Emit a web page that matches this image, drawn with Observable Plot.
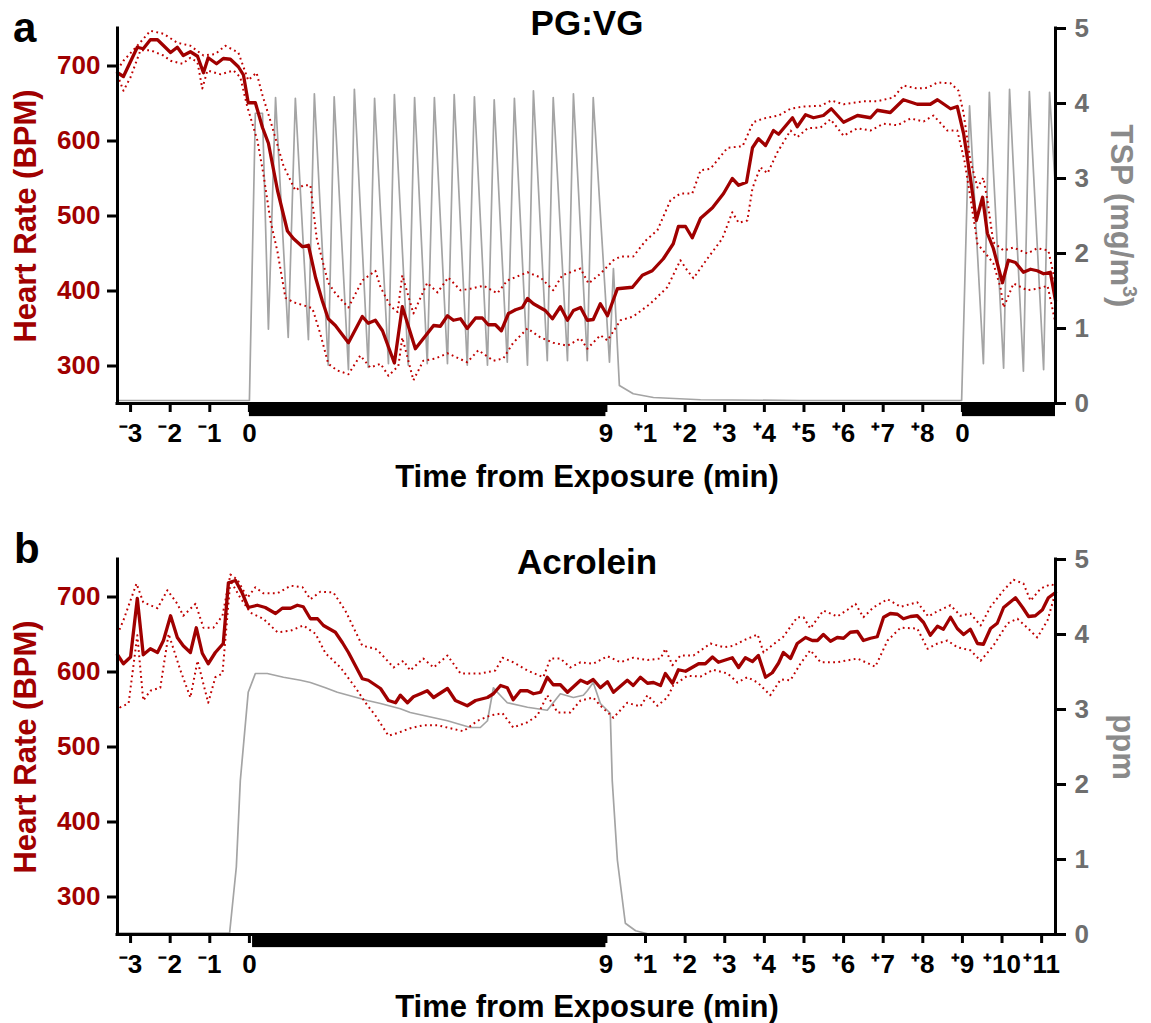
<!DOCTYPE html>
<html><head><meta charset="utf-8">
<script src="https://cdn.jsdelivr.net/npm/d3@7"></script>
<script src="https://cdn.jsdelivr.net/npm/@observablehq/plot@0.6"></script>
<style>
body{margin:0;background:#fff;}
#wrap{position:relative;width:1151px;height:1023px;background:#fff;}
#wrap svg{position:absolute;left:0;}
</style></head><body><div id="wrap"></div>
<script>
// ---------- DATA (time in minutes from exposure start, value) ----------
// Panel a: PG:VG
const hrMeanA = [[-3.33,691],[-3.18,686],[-2.83,725],[-2.68,723],[-2.50,735],[-2.32,735],[-1.99,718],[-1.82,725],[-1.67,714],[-1.49,719],[-1.31,713],[-1.16,691],[-1.04,711],[-0.83,703],[-0.66,710],[-0.48,709],[-0.28,699],[-0.15,688],[-0.03,651],[0.15,651],[0.33,618],[0.48,597],[0.71,534],[0.96,480],[1.11,470],[1.34,459],[1.49,461],[1.67,418],[1.84,387],[1.99,363],[2.17,354],[2.50,331],[2.85,366],[3.00,357],[3.18,361],[3.36,347],[3.66,304],[3.86,379],[4.19,323],[4.65,354],[4.82,353],[5.00,367],[5.15,361],[5.33,363],[5.50,350],[5.71,364],[5.88,364],[6.03,355],[6.21,355],[6.36,347],[6.54,370],[6.72,375],[6.89,378],[7.02,390],[7.17,383],[7.47,374],[7.65,363],[7.85,379],[8.03,361],[8.18,374],[8.36,378],[8.53,361],[8.68,362],[8.86,383],[9.04,367],[9.29,403],[9.67,405],[9.92,421],[10.17,427],[10.45,443],[10.70,463],[10.83,486],[11.01,486],[11.18,471],[11.39,497],[11.69,511],[11.97,530],[12.19,550],[12.35,541],[12.55,545],[12.70,591],[12.85,603],[13.03,594],[13.23,614],[13.36,609],[13.71,631],[13.83,619],[14.04,635],[14.24,631],[14.49,634],[14.69,643],[15.00,625],[15.35,634],[15.68,631],[15.85,641],[16.18,638],[16.51,655],[16.86,649],[17.19,649],[17.37,655],[17.70,643],[17.87,646],[18.03,610],[18.20,551],[18.35,494],[18.51,525],[18.63,477],[18.78,457],[19.01,411],[19.16,441],[19.34,438],[19.54,425],[19.72,429],[19.89,427],[20.05,423],[20.22,425],[20.35,387]];
const hrUpperA = [[-3.33,695],[-3.18,707],[-2.83,727],[-2.50,747],[-2.17,743],[-1.82,731],[-1.49,727],[-1.16,714],[-0.86,716],[-0.61,727],[-0.28,718],[-0.03,681],[0.18,691],[0.33,661],[0.53,627],[0.86,567],[1.16,534],[1.36,541],[1.54,541],[1.70,470],[1.99,411],[2.17,397],[2.50,378],[2.85,414],[3.18,427],[3.31,405],[3.56,380],[3.74,372],[3.86,421],[4.14,370],[4.49,411],[4.75,398],[5.02,418],[5.33,401],[5.58,403],[5.91,407],[6.26,397],[6.51,414],[7.02,425],[7.35,418],[7.67,401],[7.90,421],[8.36,430],[8.56,410],[8.86,423],[9.19,441],[9.37,446],[9.69,446],[10.00,467],[10.30,481],[10.63,521],[10.88,530],[11.18,530],[11.39,561],[11.64,563],[12.07,591],[12.45,593],[12.72,625],[12.98,630],[13.36,634],[13.66,643],[13.99,646],[14.42,647],[14.69,654],[15.00,649],[15.50,653],[15.85,653],[16.26,658],[16.51,674],[16.86,670],[17.12,671],[17.37,678],[17.70,677],[17.90,667],[18.03,637],[18.20,574],[18.38,538],[18.53,551],[18.63,521],[18.78,465],[19.04,454],[19.29,458],[19.64,450],[19.89,457],[20.17,454],[20.35,410]];
const hrLowerA = [[-3.33,688],[-3.18,667],[-3.00,685],[-2.75,721],[-2.50,721],[-2.17,714],[-1.99,707],[-1.69,703],[-1.49,711],[-1.31,705],[-1.19,670],[-1.06,694],[-0.73,689],[-0.40,694],[-0.23,685],[-0.05,645],[0.20,601],[0.35,557],[0.53,494],[0.71,452],[0.91,391],[1.11,385],[1.36,381],[1.59,377],[1.79,343],[1.99,303],[2.22,294],[2.50,289],[2.80,314],[3.05,298],[3.31,303],[3.51,287],[3.76,300],[3.86,338],[4.14,281],[4.39,307],[4.70,310],[5.00,317],[5.50,305],[5.78,321],[6.16,307],[6.41,310],[6.66,331],[7.02,350],[7.35,338],[7.67,331],[8.03,327],[8.36,337],[8.53,323],[8.86,341],[9.04,334],[9.37,361],[9.69,366],[10.12,383],[10.55,405],[10.88,441],[11.06,427],[11.21,417],[11.56,443],[11.94,470],[12.19,505],[12.35,491],[12.57,494],[12.70,537],[12.90,565],[13.08,557],[13.33,585],[13.66,614],[13.83,605],[14.09,617],[14.42,618],[14.67,629],[15.00,607],[15.35,617],[15.68,614],[16.01,623],[16.36,621],[16.69,630],[17.02,626],[17.27,634],[17.62,614],[17.87,614],[18.05,574],[18.20,525],[18.38,463],[18.63,447],[18.78,437],[18.96,405],[19.04,378],[19.29,410],[19.64,401],[19.89,403],[20.15,407],[20.35,357]];
// TSP (mg/m3)
const tspA = [[-3.33,0.04],[0.00,0.04],[0.15,3.87],[0.33,3.87],[0.48,0.99],[0.66,4.08],[0.98,0.88],[1.16,4.07],[1.49,0.85],[1.64,4.13],[1.99,0.51],[2.14,4.09],[2.50,0.45],[2.65,4.19],[3.00,0.48],[3.16,4.07],[3.51,0.53],[3.66,4.12],[4.01,0.51],[4.17,4.08],[4.49,0.53],[4.67,4.08],[5.00,0.53],[5.17,4.12],[5.50,0.51],[5.68,4.09],[6.01,0.51],[6.18,4.05],[6.51,0.55],[6.69,4.07],[7.02,0.51],[7.17,4.17],[7.52,0.57],[7.67,4.08],[8.03,0.57],[8.18,4.13],[8.53,0.57],[8.68,4.08],[9.09,0.55],[9.19,1.80],[9.34,0.24],[9.69,0.13],[10.20,0.08],[11.39,0.05],[13.90,0.04],[17.98,0.04],[18.18,3.97],[18.53,0.53],[18.68,4.15],[19.04,0.47],[19.19,4.19],[19.54,0.43],[19.69,4.16],[20.05,0.45],[20.20,4.15],[20.35,2.84]];
const exposureA = [[0, 9], [18, 20.35]];
const xTicksA = [-3,-2,-1,0,9,10,11,12,13,14,15,16,17,18];
const xLabelsA = ["⁻3","⁻2","⁻1","0","9","⁺1","⁺2","⁺3","⁺4","⁺5","⁺6","⁺7","⁺8","0"];

// Panel b: Acrolein
const hrMeanB = [[-3.33,623],[-3.18,611],[-3.00,620],[-2.83,698],[-2.68,623],[-2.50,631],[-2.32,626],[-2.17,642],[-1.99,675],[-1.82,646],[-1.67,635],[-1.49,626],[-1.34,659],[-1.19,625],[-1.04,611],[-0.86,626],[-0.66,638],[-0.53,719],[-0.35,722],[-0.18,705],[-0.03,686],[0.20,689],[0.40,686],[0.66,678],[0.83,685],[1.04,685],[1.21,689],[1.36,687],[1.54,671],[1.72,671],[1.87,662],[2.17,653],[2.35,639],[2.50,626],[2.85,591],[3.00,589],[3.31,578],[3.51,562],[3.69,559],[3.81,569],[3.99,559],[4.14,567],[4.32,571],[4.49,575],[4.65,566],[5.00,578],[5.20,562],[5.50,555],[5.71,562],[6.01,566],[6.16,571],[6.34,582],[6.51,579],[6.66,563],[6.84,575],[7.02,575],[7.17,571],[7.35,573],[7.52,593],[7.67,583],[7.85,583],[8.03,573],[8.36,589],[8.53,585],[8.68,590],[8.86,579],[9.04,587],[9.19,573],[9.54,589],[9.69,582],[9.87,593],[10.05,585],[10.20,586],[10.38,582],[10.50,598],[10.68,585],[10.83,603],[11.01,601],[11.34,611],[11.51,611],[11.69,620],[11.84,613],[12.19,619],[12.35,606],[12.52,619],[12.70,614],[12.85,622],[13.03,593],[13.20,599],[13.36,612],[13.48,626],[13.66,618],[13.83,638],[14.04,646],[14.21,642],[14.34,642],[14.49,650],[14.67,641],[14.84,646],[15.00,645],[15.17,653],[15.35,654],[15.50,642],[15.68,645],[15.85,647],[16.01,673],[16.18,678],[16.36,677],[16.51,671],[16.69,674],[16.86,675],[17.02,666],[17.19,649],[17.37,661],[17.52,657],[17.70,673],[17.87,658],[18.03,650],[18.20,657],[18.38,638],[18.53,637],[18.71,658],[18.88,665],[19.04,686],[19.34,699],[19.52,686],[19.67,674],[19.84,675],[20.02,683],[20.17,699],[20.35,706]];
const hrUpperB = [[-3.33,650],[-3.18,669],[-2.85,718],[-2.68,693],[-2.32,685],[-2.07,709],[-1.82,691],[-1.67,675],[-1.36,691],[-1.16,659],[-0.91,659],[-0.68,675],[-0.48,730],[-0.30,723],[-0.05,699],[0.15,713],[0.35,705],[0.71,705],[1.04,715],[1.34,713],[1.54,697],[1.79,707],[2.12,706],[2.42,682],[2.85,635],[3.18,631],[3.31,625],[3.64,606],[3.89,615],[4.06,602],[4.39,618],[4.65,606],[5.00,622],[5.33,598],[5.83,598],[6.21,602],[6.39,619],[6.66,613],[7.02,602],[7.42,593],[7.60,618],[7.85,618],[8.10,606],[8.36,613],[8.68,611],[9.04,621],[9.37,613],[9.69,619],[10.05,616],[10.38,618],[10.50,631],[10.68,609],[10.88,622],[11.21,622],[11.64,638],[11.97,633],[12.22,635],[12.47,642],[12.83,650],[12.98,626],[13.23,637],[13.48,647],[13.83,673],[13.99,673],[14.16,658],[14.49,682],[14.84,674],[15.10,683],[15.30,691],[15.50,673],[15.75,686],[16.11,697],[16.44,687],[16.86,693],[17.14,674],[17.37,681],[17.70,689],[17.95,675],[18.20,678],[18.46,662],[18.71,687],[19.04,709],[19.29,723],[19.54,718],[19.72,695],[19.97,711],[20.22,717],[20.35,715]];
const hrLowerB = [[-3.33,560],[-3.26,553],[-3.05,558],[-2.83,649],[-2.68,562],[-2.50,575],[-2.25,579],[-2.04,651],[-1.74,602],[-1.49,566],[-1.31,615],[-1.04,559],[-0.86,593],[-0.68,598],[-0.48,722],[-0.23,699],[0.03,679],[0.35,671],[0.71,653],[1.04,655],[1.36,662],[1.67,651],[1.92,625],[2.30,606],[2.68,579],[2.93,559],[3.18,542],[3.51,515],[3.76,519],[4.06,525],[4.39,529],[4.75,529],[5.07,525],[5.40,521],[5.76,535],[6.08,542],[6.39,545],[6.66,526],[7.02,533],[7.27,542],[7.52,569],[7.78,546],[8.10,546],[8.36,562],[8.68,566],[8.86,555],[9.19,539],[9.54,559],[9.87,554],[10.05,569],[10.30,555],[10.55,566],[10.70,582],[11.06,595],[11.39,594],[11.71,603],[12.07,598],[12.32,586],[12.57,593],[12.83,586],[13.15,569],[13.41,590],[13.66,589],[13.91,611],[14.16,629],[14.42,613],[14.84,613],[15.35,618],[15.80,607],[16.11,642],[16.44,659],[16.86,658],[17.12,631],[17.37,638],[17.62,642],[17.87,633],[18.20,629],[18.46,615],[18.78,635],[19.14,665],[19.39,671],[19.64,659],[19.89,646],[20.15,669],[20.35,706]];
// Acrolein (ppm)
const ppmB = [[-3.33,0.02],[-0.50,0.02],[-0.33,0.90],[-0.23,2.05],[-0.03,3.23],[0.15,3.48],[0.45,3.48],[0.86,3.43],[1.29,3.39],[1.54,3.36],[1.92,3.29],[2.22,3.23],[2.98,3.12],[3.31,3.08],[3.81,3.01],[4.06,2.96],[5.00,2.85],[5.58,2.76],[5.83,2.76],[6.01,2.85],[6.16,3.29],[6.26,3.23],[6.51,3.09],[7.02,3.03],[7.52,2.99],[7.85,3.21],[8.18,3.16],[8.43,3.19],[8.53,3.25],[8.68,3.36],[8.86,3.08],[9.11,2.95],[9.16,2.05],[9.29,0.99],[9.49,0.15],[9.75,0.05],[10.05,0.01],[20.35,0.01]];
const exposureB = [[0.08, 9]];
const xTicksB = [-3,-2,-1,0,9,10,11,12,13,14,15,16,17,18,19,20];
const xLabelsB = ["⁻3","⁻2","⁻1","0","9","⁺1","⁺2","⁺3","⁺4","⁺5","⁺6","⁺7","⁺8","⁺9","⁺10","⁺11"];

const leftTicks = [300, 400, 500, 600, 700];
const rightTicks = [0, 1, 2, 3, 4, 5];
const xDomain = [-3.33, 20.35];
const hrDomain = [250, 750];

// ---------- RENDER ----------
const FONT = "'Liberation Sans', Arial, Helvetica, sans-serif";
const RED = "#a00000", DOT = "#c00000", GRAY = "#a4a4a4", GRAYTXT = "#6e6e6e", GRAYLAB = "#8a8a8a";
// right axis (0..5) shares the heart-rate frame: 0 -> 250, 5 -> 750
const toLeft = v => hrDomain[0] + v * (hrDomain[1] - hrDomain[0]) / 5;

function panel({top, height, mean, upper, lower, conc, bars, xTicks, xLabels}) {
  const labelMap = new Map(xTicks.map((t, i) => [t, xLabels[i]]));
  const dotted = {stroke: DOT, strokeWidth: 2, strokeDasharray: "1.8,3.4", strokeLinecap: "butt"};
  const svg = Plot.plot({
    width: 1151, height,
    marginLeft: 117, marginRight: 96, marginTop: 28, marginBottom: height - 403,
    x: {domain: xDomain},
    y: {domain: hrDomain},
    style: {fontFamily: FONT, overflow: "visible", background: "transparent"},
    marks: [
      Plot.line(conc, {x: d => d[0], y: d => toLeft(d[1]), stroke: GRAY, strokeWidth: 1.7}),
      Plot.line(upper, {x: d => d[0], y: d => d[1], ...dotted}),
      Plot.line(lower, {x: d => d[0], y: d => d[1], ...dotted}),
      Plot.line(mean, {x: d => d[0], y: d => d[1], stroke: RED, strokeWidth: 3.3, strokeLinejoin: "round"}),
      Plot.rect(bars, {x1: d => d[0], x2: d => d[1], y1: 232.5, y2: 250, fill: "black"}),
      Plot.ruleX([xDomain[0]], {stroke: "black", strokeWidth: 3, strokeLinecap: "square"}),
      Plot.ruleX([xDomain[1]], {stroke: "black", strokeWidth: 3, strokeLinecap: "square"}),
      Plot.ruleY([hrDomain[0]], {stroke: "black", strokeWidth: 3, strokeLinecap: "square"}),
      Plot.axisY(leftTicks, {anchor: "left", tickSize: 10, tickPadding: 7, stroke: "black", strokeWidth: 3,
        fill: RED, fontSize: 26, fontWeight: "bold", label: null}),
      Plot.axisY(rightTicks.map(toLeft), {anchor: "right", tickSize: 10, tickPadding: 9, stroke: "black", strokeWidth: 3,
        tickFormat: d => String(Math.round((d - hrDomain[0]) * 5 / (hrDomain[1] - hrDomain[0]))),
        fill: GRAYTXT, fontSize: 26, fontWeight: "bold", label: null}),
      Plot.axisX(xTicks, {anchor: "bottom", tickSize: 9, tickPadding: 11, stroke: "black", strokeWidth: 3,
        tickFormat: d => labelMap.get(d), fill: "black", fontSize: 26, fontWeight: "bold", label: null})
    ]
  });
  svg.style.top = top + "px";
  document.getElementById("wrap").appendChild(svg);
  return d3.select(svg);
}

function addText(s, {x, y, text, size, color = "black", anchor = "middle", rotate = 0}) {
  const t = s.append("text")
    .attr("transform", `translate(${x},${y}) rotate(${rotate})`)
    .attr("text-anchor", anchor)
    .attr("font-family", FONT).attr("font-weight", "bold")
    .attr("font-size", size).attr("fill", color);
  t.text(text);
  return t;
}

// Panel a
const sa = panel({top: 0, height: 500, mean: hrMeanA, upper: hrUpperA, lower: hrLowerA, conc: tspA,
  bars: exposureA, xTicks: xTicksA, xLabels: xLabelsA});
addText(sa, {x: 13, y: 42, text: "a", size: 42, anchor: "start"});
addText(sa, {x: 587, y: 35, text: "PG:VG", size: 35});
addText(sa, {x: 587, y: 487, text: "Time from Exposure (min)", size: 31});
addText(sa, {x: 36, y: 216, text: "Heart Rate (BPM)", size: 31, color: RED, rotate: -90});
{
  const t = addText(sa, {x: 1111, y: 216, text: "", size: 31, color: GRAYLAB, rotate: 90});
  t.append("tspan").text("TSP (mg/m");
  t.append("tspan").attr("font-size", 20).attr("dy", -12).text("3");
  t.append("tspan").attr("dy", 12).text(")");
}

// Panel b
const sb = panel({top: 531, height: 492, mean: hrMeanB, upper: hrUpperB, lower: hrLowerB, conc: ppmB,
  bars: exposureB, xTicks: xTicksB, xLabels: xLabelsB});
addText(sb, {x: 14, y: 32, text: "b", size: 42, anchor: "start"});
addText(sb, {x: 587, y: 43, text: "Acrolein", size: 35});
addText(sb, {x: 587, y: 486, text: "Time from Exposure (min)", size: 31});
addText(sb, {x: 36, y: 216, text: "Heart Rate (BPM)", size: 31, color: RED, rotate: -90});
addText(sb, {x: 1113, y: 216, text: "ppm", size: 31, color: GRAYLAB, rotate: 90});
</script></body></html>
